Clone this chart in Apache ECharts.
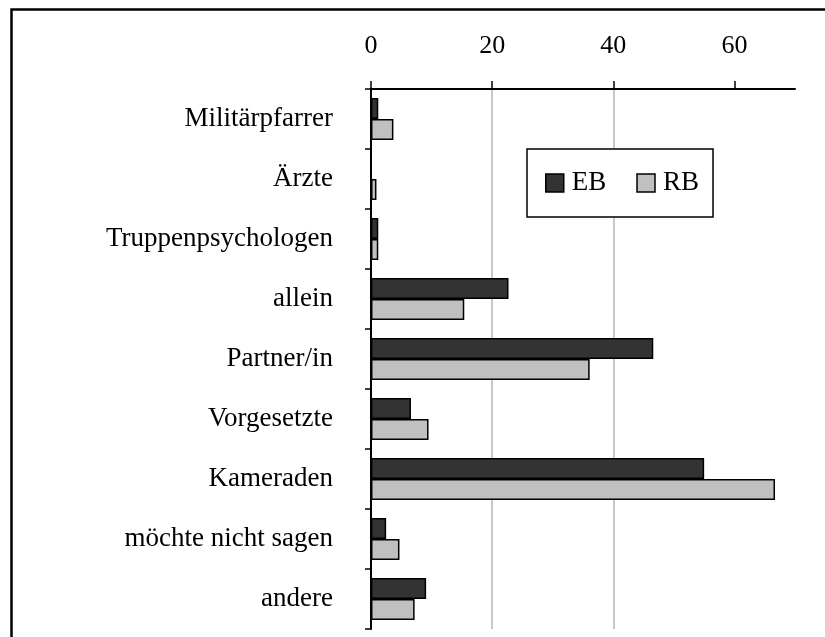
<!DOCTYPE html>
<html>
<head>
<meta charset="utf-8">
<script src="https://cdn.jsdelivr.net/npm/echarts@6/dist/echarts.min.js"></script>
<style>
  html, body { margin: 0; padding: 0; background: #fff; }
  #bar_charts { width: 825px; height: 637px; }
</style>
</head>
<body>
<div id="bar_charts"></div>
<script>
// Werte
var categories = ['Militärpfarrer', 'Ärzte', 'Truppenpsychologen', 'allein', 'Partner/in',
  'Vorgesetzte', 'Kameraden', 'möchte nicht sagen', 'andere'];
var ebValues = [1.2, 0, 1.2, 22.7, 46.6, 6.6, 55.0, 2.5, 9.1];
var rbValues = [3.7, 0.9, 1.2, 15.4, 36.1, 9.5, 66.7, 4.7, 7.2];
var xTicks = [0, 20, 40, 60];

var fontFam = '"Liberation Serif", "Times New Roman", serif';

var bar_charts = echarts.init(document.getElementById('bar_charts'));

var option = {
  backgroundColor: '#fff',
  animation: false,
  textStyle: { fontFamily: fontFam, color: '#000' },
  // Rahmen um die ganze Grafik
  graphic: [
    {
      type: 'rect',
      left: 9,
      top: 7,
      shape: { width: 900, height: 700 },
      style: { fill: 'none', stroke: '#000', lineWidth: 2.5 },
      silent: true
    }
  ],
  legend: {
    data: ['EB', 'RB'],
    left: 527,
    top: 149,
    orient: 'horizontal',
    padding: [20, 14, 20, 18],
    itemGap: 30,
    itemWidth: 18,
    itemHeight: 18,
    icon: 'rect',
    borderColor: '#000',
    borderWidth: 1.5,
    backgroundColor: '#fff',
    itemStyle: { borderColor: '#000', borderWidth: 1.5 },
    textStyle: { fontFamily: fontFam, fontSize: 27, color: '#000', lineHeight: 28, padding: [0, 0, 0, 3] },
    selectedMode: false
  },
  grid: {
    left: 371,
    right: 30,
    top: 89,
    bottom: 8,
    containLabel: false
  },
  xAxis: {
    type: 'value',
    position: 'top',
    min: 0,
    max: 70,
    interval: 20,
    axisLine: { show: true, lineStyle: { color: '#000', width: 2 } },
    axisTick: {
      show: true,
      length: 8,
      customValues: xTicks,
      lineStyle: { color: '#000', width: 1.5 }
    },
    axisLabel: {
      customValues: xTicks,
      margin: 30,
      fontSize: 26,
      fontFamily: fontFam,
      color: '#000'
    },
    splitLine: {
      show: true,
      showMinLine: false,
      showMaxLine: false,
      lineStyle: { color: '#c8c8c8', width: 2 }
    }
  },
  yAxis: {
    type: 'category',
    inverse: true,
    data: categories,
    axisLine: { show: true, lineStyle: { color: '#000', width: 2 } },
    axisTick: { show: true, length: 6, lineStyle: { color: '#000', width: 1.5 } },
    axisLabel: {
      margin: 38,
      fontSize: 27,
      fontFamily: fontFam,
      color: '#000'
    },
    splitLine: { show: false }
  },
  series: [
    {
      name: 'EB',
      type: 'bar',
      data: ebValues,
      barWidth: 21,
      barGap: '0%',
      itemStyle: { color: '#333333', borderColor: '#000', borderWidth: 1.5 }
    },
    {
      name: 'RB',
      type: 'bar',
      data: rbValues,
      barWidth: 21,
      barGap: '0%',
      itemStyle: { color: '#c0c0c0', borderColor: '#000', borderWidth: 1.5 }
    }
  ]
};

bar_charts.setOption(option);
window.addEventListener('resize', function () {
  bar_charts.resize();
});
</script>
</body>
</html>
